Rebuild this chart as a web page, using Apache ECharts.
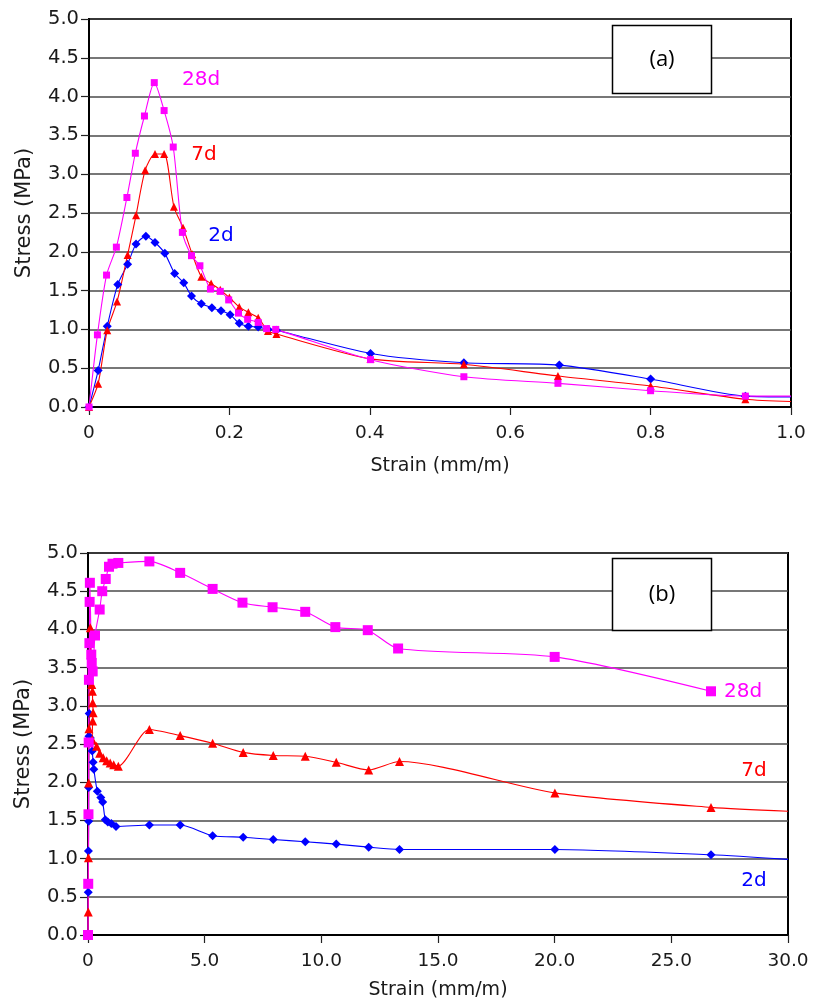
<!DOCTYPE html>
<html><head><meta charset="utf-8">
<script src="https://cdn.jsdelivr.net/npm/echarts@6/dist/echarts.min.js"></script>
<style>html,body{margin:0;padding:0;background:#fff}#c{width:813px;height:1001px}</style>
</head><body><div id="c"></div>
<script>
// ---------- Panel (a): strain 0 - 1.0 mm/m ----------
const a28x = [0, 0.012, 0.025, 0.039, 0.054, 0.066, 0.079, 0.093, 0.107, 0.120, 0.133, 0.146, 0.158, 0.173, 0.187, 0.199, 0.213, 0.226, 0.241, 0.253, 0.266, 0.401, 0.534, 0.668, 0.800, 0.935, 1.0];
const a28y = [0, 0.93, 1.70, 2.06, 2.70, 3.27, 3.75, 4.18, 3.82, 3.35, 2.25, 1.95, 1.82, 1.52, 1.49, 1.38, 1.21, 1.13, 1.09, 1.01, 1.00, 0.61, 0.39, 0.305, 0.21, 0.14, 0.14];
const a7x = [0, 0.013, 0.026, 0.040, 0.055, 0.067, 0.080, 0.094, 0.107, 0.121, 0.134, 0.147, 0.160, 0.174, 0.187, 0.200, 0.214, 0.227, 0.241, 0.255, 0.267, 0.401, 0.534, 0.668, 0.800, 0.935, 1.0];
const a7y = [0, 0.30, 0.99, 1.36, 1.96, 2.47, 3.05, 3.26, 3.26, 2.58, 2.31, 1.97, 1.68, 1.59, 1.51, 1.41, 1.29, 1.22, 1.15, 0.98, 0.94, 0.62, 0.55, 0.40, 0.27, 0.10, 0.07];
const a2x = [0, 0.013, 0.026, 0.041, 0.055, 0.067, 0.081, 0.094, 0.108, 0.122, 0.135, 0.146, 0.160, 0.175, 0.188, 0.201, 0.214, 0.227, 0.241, 0.255, 0.267, 0.401, 0.534, 0.670, 0.800, 0.935, 1.0];
const a2y = [0, 0.47, 1.04, 1.58, 1.84, 2.10, 2.20, 2.12, 1.98, 1.72, 1.60, 1.43, 1.33, 1.28, 1.24, 1.19, 1.08, 1.04, 1.03, 1.00, 0.99, 0.69, 0.57, 0.54, 0.36, 0.14, 0.13];

// ---------- Panel (b): strain 0 - 30 mm/m ----------
const b28x = [0, 0.01, 0.02, 0.03, 0.04, 0.06, 0.07, 0.08, 0.14, 0.16, 0.20, 0.30, 0.50, 0.61, 0.76, 0.90, 1.05, 1.30, 2.63, 3.95, 5.34, 6.62, 7.91, 9.31, 10.6, 11.99, 13.29, 20.0, 26.7];
const b28y = [0, 0.67, 1.58, 2.52, 3.34, 3.82, 4.36, 4.61, 3.67, 3.56, 3.45, 3.92, 4.26, 4.50, 4.66, 4.82, 4.86, 4.87, 4.89, 4.74, 4.53, 4.35, 4.29, 4.23, 4.03, 3.99, 3.75, 3.64, 3.19];
const b7x = [0, 0.01, 0.02, 0.03, 0.04, 0.10, 0.16, 0.19, 0.20, 0.22, 0.20, 0.18, 0.37, 0.50, 0.65, 0.80, 0.95, 1.10, 1.30, 2.63, 3.95, 5.34, 6.65, 7.94, 9.31, 10.64, 12.03, 13.35, 20.01, 26.7, 30];
const b7y = [0, 0.30, 1.01, 1.99, 2.70, 4.02, 3.28, 3.19, 3.04, 2.91, 2.80, 2.56, 2.47, 2.38, 2.32, 2.28, 2.25, 2.23, 2.21, 2.69, 2.61, 2.51, 2.39, 2.35, 2.34, 2.26, 2.16, 2.27, 1.86, 1.67, 1.62];
const b2x = [0, 0.01, 0.02, 0.03, 0.03, 0.04, 0.05, 0.10, 0.18, 0.22, 0.25, 0.40, 0.55, 0.63, 0.74, 0.85, 1.0, 1.2, 2.63, 3.95, 5.34, 6.65, 7.94, 9.31, 10.64, 12.03, 13.35, 20.01, 26.7, 30];
const b2y = [0, 0.56, 1.10, 1.49, 1.93, 2.60, 2.90, 2.58, 2.41, 2.26, 2.17, 1.88, 1.80, 1.74, 1.51, 1.48, 1.46, 1.42, 1.44, 1.44, 1.30, 1.28, 1.25, 1.22, 1.19, 1.15, 1.12, 1.12, 1.05, 0.99];

// ---------- Labels ----------
const ageLabels = ['28d', '7d', '2d'];
const panelLabels = ['(a)', '(b)'];
const yTitle = 'Stress (MPa)';
const xTitle = 'Strain (mm/m)';

const zip = (xs, ys) => xs.map((x, i) => [x, ys[i]]);
const COL = { '28d': '#ff00ff', '7d': '#ff0000', '2d': '#0000ff' };
const SYM = { '28d': 'rect', '7d': 'triangle', '2d': 'diamond' };
const FONT = 'DejaVu Sans';

function mkSeries(name, xs, ys, gi, size, hideLast) {
  const n = xs.length;
  return {
    name, type: 'line', xAxisIndex: gi, yAxisIndex: gi,
    data: zip(xs, ys), smooth: 0.25,
    symbol: SYM[name],
    symbolSize: (v, p) => (hideLast && p.dataIndex === n - 1) ? 0 : size,
    lineStyle: { color: COL[name], width: 1.1 },
    itemStyle: { color: COL[name] },
    clip: true
  };
}

function yAxisCfg(gi, gap) {
  return {
    type: 'value', gridIndex: gi, min: 0, max: 5, interval: 0.5,
    name: yTitle, nameLocation: 'middle', nameGap: gap,
    nameTextStyle: { fontFamily: FONT, fontSize: 21, color: '#1a1a1a' },
    axisLine: { show: true, lineStyle: { color: '#000', width: 2 } },
    axisTick: { show: true, inside: false, length: 8, lineStyle: { color: '#222', width: 1.2 } },
    axisLabel: { formatter: v => v.toFixed(1), fontFamily: FONT, fontSize: 19.5, color: '#1a1a1a', margin: 10 },
    splitLine: { show: true, lineStyle: { color: '#4a4a4a', width: 1.5 } }
  };
}
function xAxisCfg(gi, max, interval, gap) {
  return {
    type: 'value', gridIndex: gi, min: 0, max, interval,
    name: xTitle, nameLocation: 'middle', nameGap: gap,
    nameTextStyle: { fontFamily: FONT, fontSize: 19, color: '#1a1a1a' },
    axisLine: { show: true, lineStyle: { color: '#000', width: 2 } },
    axisTick: { show: true, inside: false, length: 8, lineStyle: { color: '#222', width: 1.2 } },
    axisLabel: { formatter: v => v === 0 ? '0' : v.toFixed(1), fontFamily: FONT, fontSize: 18.5, color: '#1a1a1a', margin: 17 },
    splitLine: { show: false }
  };
}

function boxAndText(x, y, w, h, txt) {
  return [
    { type: 'rect', shape: { x, y, width: w, height: h }, style: { fill: '#fff', stroke: '#000', lineWidth: 1.5 }, z: 100 },
    { type: 'text', x: x + w / 2, y: y + h / 2, style: { text: txt, fontFamily: 'Open Sans', fontSize: 22, fill: '#000', align: 'center', verticalAlign: 'middle' }, z: 101 }
  ];
}
function ageText(x, y, txt) {
  return { type: 'text', x, y, style: { text: txt, fontFamily: FONT, fontSize: 20, fill: COL[txt], align: 'center', verticalAlign: 'middle' }, z: 102 };
}

const chart = echarts.init(document.getElementById('c'), null, { renderer: 'canvas' });
chart.setOption({
  animation: false,
  backgroundColor: '#fff',
  grid: [
    { left: 89, top: 19, width: 702, height: 388, show: true, borderColor: '#000', borderWidth: 2, backgroundColor: 'transparent' },
    { left: 88, top: 553, width: 700, height: 383, show: true, borderColor: '#000', borderWidth: 2, backgroundColor: 'transparent' }
  ],
  xAxis: [xAxisCfg(0, 1.0, 0.2, 50), xAxisCfg(1, 30, 5, 46)],
  yAxis: [yAxisCfg(0, 54), yAxisCfg(1, 54)],
  series: [
    mkSeries('2d', a2x, a2y, 0, 9, true),
    mkSeries('7d', a7x, a7y, 0, 8, true),
    mkSeries('28d', a28x, a28y, 0, 7, true),
    mkSeries('2d', b2x, b2y, 1, 9, true),
    mkSeries('7d', b7x, b7y, 1, 9, true),
    mkSeries('28d', b28x, b28y, 1, 10, false)
  ],
  graphic: [
    ...boxAndText(612.5, 25.5, 99, 68, panelLabels[0]),
    ...boxAndText(612.5, 558.5, 99, 72, panelLabels[1]),
    ageText(201, 80, ageLabels[0]),
    ageText(204, 155, ageLabels[1]),
    ageText(221, 236, ageLabels[2]),
    ageText(743, 692, ageLabels[0]),
    ageText(754, 771, ageLabels[1]),
    ageText(754, 881, ageLabels[2])
  ]
});
</script>
</body></html>
